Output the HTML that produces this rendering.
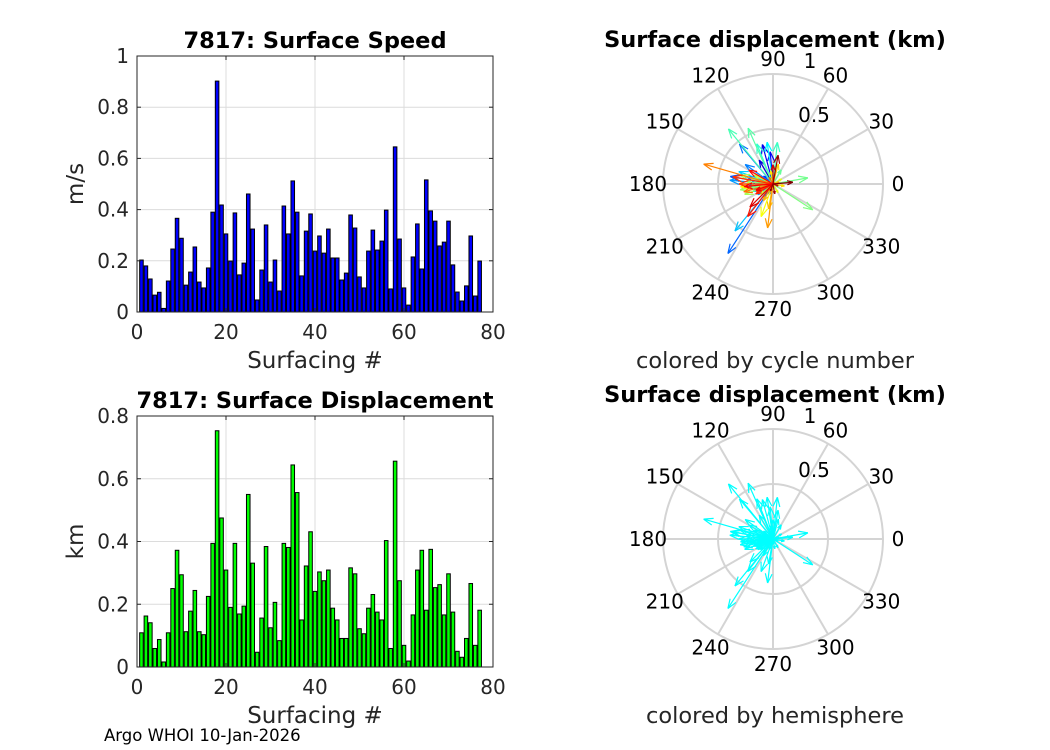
<!DOCTYPE html>
<html><head><meta charset="utf-8"><style>
body{margin:0;background:#fff;}
svg{display:block;font-family:"DejaVu Sans","Liberation Sans",sans-serif;}
</style></head><body>
<svg id="fig" width="1050" height="750" viewBox="0 0 1050 750">
<rect width="1050" height="750" fill="#fff"/>
<text x="104" y="741" font-size="16.5" fill="#000">Argo WHOI 10-Jan-2026</text>
</svg>
<script>
const cycles = Array.from({length:77},(_,i)=>i+1);
const speed = [0.203,0.18,0.129,0.066,0.077,0.014,0.121,0.246,0.366,0.288,0.105,0.156,0.254,0.117,0.094,0.172,0.39,0.902,0.418,0.305,0.199,0.387,0.145,0.191,0.461,0.324,0.047,0.164,0.34,0.117,0.203,0.082,0.414,0.305,0.512,0.39,0.141,0.316,0.383,0.238,0.297,0.23,0.324,0.211,0.211,0.125,0.152,0.379,0.328,0.137,0.094,0.238,0.32,0.242,0.277,0.398,0.09,0.645,0.285,0.094,0.027,0.215,0.344,0.168,0.516,0.395,0.355,0.258,0.273,0.355,0.184,0.078,0.043,0.102,0.297,0.0625,0.199];
const disp = [0.109,0.1625,0.141,0.059,0.0875,0.016,0.109,0.25,0.372,0.294,0.1125,0.178,0.244,0.1125,0.103,0.225,0.394,0.753,0.475,0.309,0.19,0.394,0.169,0.194,0.55,0.331,0.047,0.156,0.384,0.125,0.206,0.084,0.394,0.381,0.644,0.556,0.15,0.322,0.431,0.241,0.303,0.275,0.309,0.1875,0.15,0.091,0.091,0.316,0.297,0.122,0.106,0.1875,0.231,0.175,0.15,0.403,0.059,0.656,0.275,0.069,0.019,0.166,0.309,0.372,0.181,0.375,0.253,0.2625,0.166,0.297,0.175,0.05,0.031,0.091,0.266,0.069,0.181];
const dirDeg = [190,200,170,150,210,90,160,120,105,95,180,200,165,140,250,185,170,237,130,145,190,175,215,200,231,160,280,200,98,175,190,230,112,84,129,114,60,10,327,175,190,200,165,155,220,30,300,250,185,100,350,75,260,240,200,263,15,164,195,120,45,205,180,170,210,232,150,185,200,225,90,340,0,280,80,250,5];
const speedTicks=[0,0.2,0.4,0.6,0.8,1];
const dispTicks=[0,0.2,0.4,0.6,0.8];
const xTicks=[0,20,40,60,80];
const angTicks=[0,30,60,90,120,150,180,210,240,270,300,330];

const NS="http://www.w3.org/2000/svg";
const svg=document.getElementById('fig');
function mk(tag,attrs,parent){const e=document.createElementNS(NS,tag);for(const k in attrs)e.setAttribute(k,attrs[k]);(parent||svg).appendChild(e);return e;}
function txt(x,y,s,size,anchor,weight,parent){const t=mk('text',{x:x,y:y,'font-size':size,'text-anchor':anchor||'middle','font-weight':weight||'normal',fill:weight?'#000':'#262626'},parent);t.textContent=s;return t;}

function barChart(cfg){
  const g=mk('g',{});
  
  
  const {x0,x1,y0,y1,ymax}=cfg;
  const X=v=>x0+(v/80)*(x1-x0);
  const Y=v=>y0-(v/ymax)*(y0-y1);
  mk('rect',{x:x0,y:y1,width:x1-x0,height:y0-y1,fill:'#fff'},g);
  xTicks.forEach(t=>{if(t>0&&t<80)mk('line',{x1:X(t),x2:X(t),y1:y0,y2:y1,stroke:'#dcdcdc','stroke-width':1},g);});
  cfg.ticks.forEach(t=>{if(t>0&&t<ymax)mk('line',{x1:x0,x2:x1,y1:Y(t),y2:Y(t),stroke:'#dcdcdc','stroke-width':1},g);});
  const bw=0.8*(X(1)-X(0));
  cfg.vals.forEach((v,i)=>{
    const b=mk('rect',{x:X(cycles[i])-bw/2,y:Y(v),width:bw,height:Y(0)-Y(v),fill:cfg.color,stroke:'#000','stroke-width':1},g);
    
    
  });
  mk('rect',{x:x0,y:y1,width:x1-x0,height:y0-y1,fill:'none',stroke:'#262626','stroke-width':1},g);
  xTicks.forEach(t=>{mk('line',{x1:X(t),x2:X(t),y1:y0,y2:y0-4,stroke:'#262626'},g);mk('line',{x1:X(t),x2:X(t),y1:y1,y2:y1+4,stroke:'#262626'},g);txt(X(t),y0+27,String(t),20,'middle',null,g);});
  cfg.ticks.forEach(t=>{mk('line',{x1:x0,x2:x0+4,y1:Y(t),y2:Y(t),stroke:'#262626'},g);mk('line',{x1:x1,x2:x1-4,y1:Y(t),y2:Y(t),stroke:'#262626'},g);txt(x0-8,Y(t)+7,String(t),20,'end',null,g);});
  const tt=txt((x0+x1)/2,y1-8,cfg.title,22.5,'middle','bold',g);
  
  const xl=txt((x0+x1)/2,y0+56,'Surfacing #',23,'middle',null,g);
  
  const yl=txt(0,0,cfg.ylabel,23,'middle',null,g);
  yl.setAttribute('transform',`translate(${x0-54},${(y0+y1)/2}) rotate(-90)`);
  
}
barChart({name:'speed-chart',x0:137,x1:493,y0:312,y1:56,ymax:1,ticks:speedTicks,vals:speed,color:'#0000ff',title:'7817: Surface Speed',ylabel:'m/s'});
barChart({name:'displacement-chart',x0:137,x1:493,y0:667,y1:416,ymax:0.8,ticks:dispTicks,vals:disp,color:'#00ff00',title:'7817: Surface Displacement',ylabel:'km'});

function jet(t){const r=Math.min(1,Math.max(0,1.5-Math.abs(4*t-3))),g=Math.min(1,Math.max(0,1.5-Math.abs(4*t-2))),b=Math.min(1,Math.max(0,1.5-Math.abs(4*t-1)));return `rgb(${Math.round(r*255)},${Math.round(g*255)},${Math.round(b*255)})`;}

function polar(cfg){
  const g=mk('g',{});
  
  
  const cx=cfg.cx,cy=cfg.cy,R=110;
  [0.5,1].forEach(r=>mk('circle',{cx:cx,cy:cy,r:R*r,fill:'none',stroke:'#d4d4d4','stroke-width':2},g));
  angTicks.forEach(a=>{const rad=a*Math.PI/180;
    mk('line',{x1:cx,y1:cy,x2:cx+R*Math.cos(rad),y2:cy-R*Math.sin(rad),stroke:'#d4d4d4','stroke-width':2},g);
    txt(cx+125*Math.cos(rad),cy-125*Math.sin(rad)+7,String(a),20,'middle',null,g).setAttribute('fill','#000');});
  txt(cx+37,cy-116,'1',20,'middle',null,g).setAttribute('fill','#000');
  txt(cx+41,cy-62,'0.5',20,'middle',null,g).setAttribute('fill','#000');
  disp.forEach((v,i)=>{
    const rad=dirDeg[i]*Math.PI/180;
    const ex=cx+R*v*Math.cos(rad),ey=cy-R*v*Math.sin(rad);
    const col=cfg.cyan?'#00ffff':jet(i/76);
    const a=mk('g',{stroke:col,'stroke-width':1.2,fill:'none'},g);
    
    
    mk('line',{x1:cx,y1:cy,x2:ex,y2:ey},a);
    const h=Math.min(10,R*v*0.3);
    [0.35,-0.35].forEach(d=>{mk('line',{x1:ex,y1:ey,x2:ex-h*Math.cos(rad+d),y2:ey+h*Math.sin(rad+d)},a);});
  });
  const t=txt(cx+2,cy-137,'Surface displacement (km)',22.5,'middle','bold',g);
  
  const c=txt(cx+2,cy+184,cfg.caption,22.5,'middle',null,g);
  
}
polar({name:'polar-by-cycle',cx:773,cy:184,caption:'colored by cycle number',cyan:false});
polar({name:'polar-by-hemisphere',cx:773,cy:539,caption:'colored by hemisphere',cyan:true});
</script>
</body></html>
